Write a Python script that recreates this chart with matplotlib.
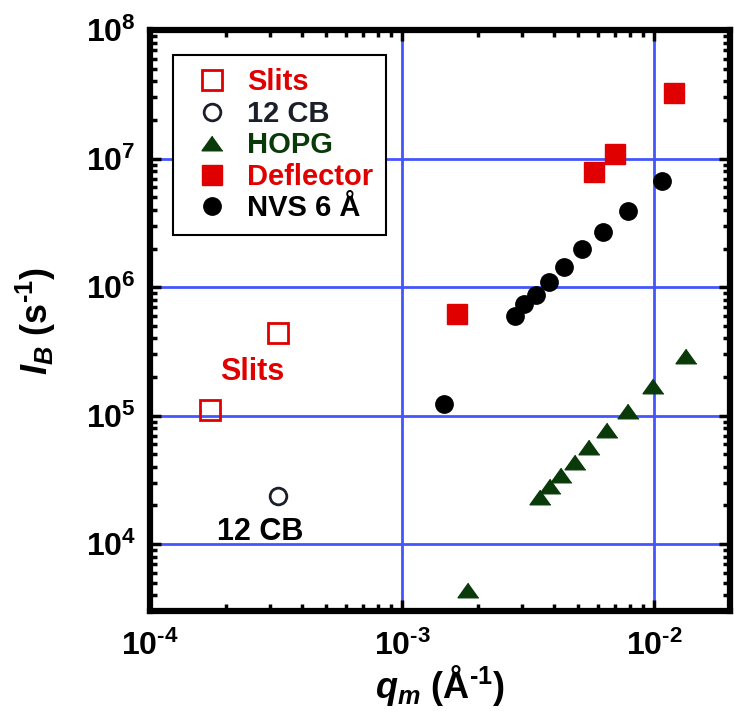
import matplotlib
matplotlib.use('Agg')
import matplotlib.pyplot as plt
from matplotlib.ticker import LogLocator, FuncFormatter, NullFormatter
import numpy as np

plt.rcParams['font.family'] = ['Liberation Sans', 'DejaVu Sans']
plt.rcParams['font.weight'] = 'bold'
plt.rcParams['mathtext.fontset'] = 'custom'
plt.rcParams['mathtext.rm'] = 'Liberation Sans:bold'
plt.rcParams['mathtext.bf'] = 'Liberation Sans:bold'
plt.rcParams['mathtext.it'] = 'Liberation Sans:bold:italic'
plt.rcParams['mathtext.bfit'] = 'Liberation Sans:bold:italic'

RED = '#e00000'
GREEN = '#0a3a0a'
BLUE = '#4455ff'

# data
slits_q = [1.74e-4, 3.22e-4]
slits_I = [1.11e5, 4.4e5]

cb12_q = [3.22e-4]
cb12_I = [2.35e4]

hopg_q = [1.82e-3, 3.52e-3, 3.86e-3, 4.27e-3, 4.84e-3, 5.50e-3, 6.47e-3, 7.83e-3, 9.9e-3, 1.34e-2]
hopg_I = [4.4e3, 2.31e4, 2.82e4, 3.43e4, 4.32e4, 5.65e4, 7.76e4, 1.09e5, 1.71e5, 2.92e5]

defl_q = [1.65e-3, 5.75e-3, 6.96e-3, 1.2e-2]
defl_I = [6.2e5, 7.9e6, 1.09e7, 3.25e7]

nvs_q = [1.46e-3, 2.81e-3, 3.05e-3, 3.40e-3, 3.83e-3, 4.39e-3, 5.16e-3, 6.24e-3, 7.83e-3, 1.07e-2]
nvs_I = [1.24e5, 5.96e5, 7.4e5, 8.7e5, 1.09e6, 1.43e6, 1.97e6, 2.67e6, 3.95e6, 6.76e6]

fig = plt.figure(figsize=(7.34, 7.2), dpi=100)
ax = fig.add_axes([0.204, 0.151, 0.791, 0.807])

tri = [(0, 0.7), (-1, -0.7), (1, -0.7)]

ax.plot(slits_q, slits_I, 's', ms=14, mfc='none', mec=RED, mew=2, label='Slits', zorder=3)
ax.plot(cb12_q, cb12_I, 'o', ms=12, mfc='none', mec='#1a1f2a', mew=2, label='12 CB', zorder=3)
ax.plot(hopg_q, hopg_I, marker=tri, ls='none', ms=15, color=GREEN, mec=GREEN, label='HOPG', zorder=3)
ax.plot(defl_q, defl_I, 's', ms=14, color=RED, mec=RED, label='Deflector', zorder=3)
ax.plot(nvs_q, nvs_I, 'o', ms=12.5, color='black', label='NVS 6 Å', zorder=3)

ax.set_xscale('log')
ax.set_yscale('log')
ax.set_xlim(1e-4, 2e-2)
ax.set_ylim(3e3, 1e8)


def dec_label(v, p):
    e = int(round(np.log10(v)))
    if e < 0:
        return r'$\mathbf{10^{\text{-}%d}}$' % (-e)
    return r'$\mathbf{10^{%d}}$' % e


for a in (ax.xaxis, ax.yaxis):
    a.set_major_locator(LogLocator(base=10, numticks=20))
    a.set_minor_locator(LogLocator(base=10, subs=np.arange(2, 10), numticks=20))
    a.set_major_formatter(FuncFormatter(dec_label))
    a.set_minor_formatter(NullFormatter())

ax.grid(True, which='major', color=BLUE, lw=2, zorder=1)
ax.tick_params(which='both', direction='in', top=True, right=True, width=2.5, labelsize=23)
ax.tick_params(axis='x', which='major', length=8, pad=14)
ax.tick_params(axis='y', which='major', length=8, pad=10)
ax.tick_params(which='minor', length=5)
for s in ax.spines.values():
    s.set_linewidth(4.5)

ax.set_xlabel(r'$\mathbfit{q}_{\mathbfit{m}}$ (Å$^{\text{-}\mathbf{1}}$)', fontsize=26,
              fontweight='bold', labelpad=1)
ax.set_ylabel(r'$\mathbfit{I}_{\mathbfit{B}}$ (s$^{\text{-}\mathbf{1}}$)', fontsize=26,
              fontweight='bold', labelpad=20)

ax.text(2.55e-4, 2.2e5, 'Slits', color=RED, fontsize=22, fontweight='bold', ha='center', va='center')
ax.text(2.75e-4, 1.25e4, '12 CB', color='black', fontsize=22, fontweight='bold', ha='center', va='center')

leg = ax.legend(loc='upper left', bbox_to_anchor=(0.04, 0.957), borderaxespad=0,
                fancybox=False, edgecolor='black', framealpha=1, fontsize=21,
                handlelength=1.8, handletextpad=0.28, labelspacing=0.12, borderpad=0.45)
leg.get_frame().set_linewidth(1.5)
for t, c in zip(leg.get_texts(), [RED, '#1a1f2a', GREEN, RED, 'black']):
    t.set_color(c)
    t.set_fontweight('bold')

fig.savefig('out.png', dpi=100)
